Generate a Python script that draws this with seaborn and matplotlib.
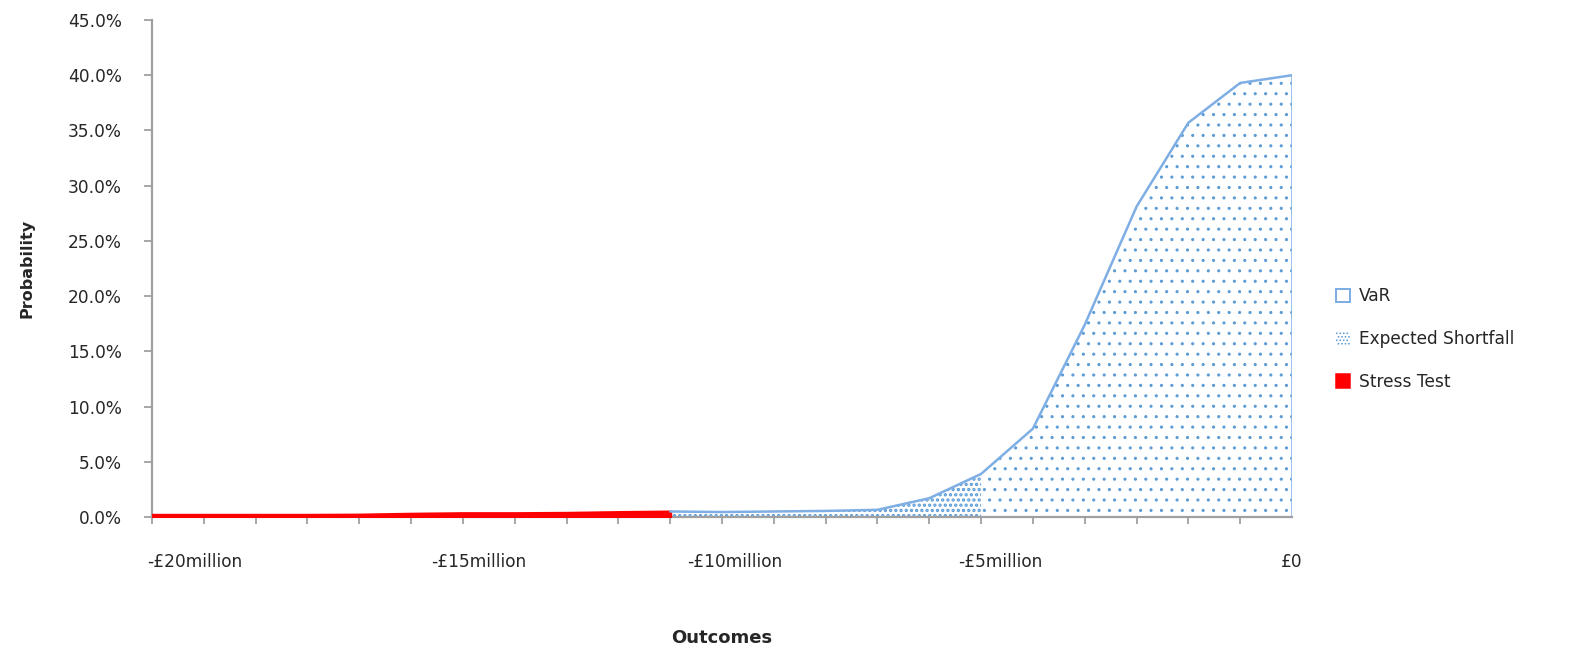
import numpy as np
import pandas as pd
import matplotlib
matplotlib.use("Agg")
import matplotlib.pyplot as plt
from matplotlib.patches import Patch
from matplotlib.ticker import PercentFormatter, FixedLocator
import seaborn as sns

# Outcome buckets (category positions along the axis) and probability (%)
steps = list(range(23))
probability = [0.20, 0.20, 0.20, 0.20, 0.22, 0.30, 0.35, 0.35, 0.38, 0.45, 0.50,
               0.45, 0.50, 0.55, 0.65, 1.7, 3.9, 8.0, 17.4, 28.1, 35.7, 39.3, 40.0]

# Series boundaries (bucket index)
stress_end = 10      # stress test region: buckets 0..10
es_end = 16          # expected shortfall region: buckets 10..16

# Axis labels
outcome_labels = ["-£20million", "-£15million", "-£10million", "-£5million", "£0"]
outcome_label_pos = [0.82, 6.30, 11.24, 16.38, 22.0]
y_ticks = [0, 5, 10, 15, 20, 25, 30, 35, 40, 45]

df = pd.DataFrame({"step": steps, "prob": probability})

DPI = 125
W, H = 1580, 649


def pt(px):
    """Convert a size in output pixels to points."""
    return px * 72.0 / DPI


def hatch_lw(artist, lw):
    """Set the hatch line width of one artist where supported."""
    if hasattr(artist, "set_hatch_linewidth"):
        artist.set_hatch_linewidth(lw)


sns.set_theme(style="white")
plt.rcParams["font.family"] = ["DejaVu Sans"]
plt.rcParams["hatch.color"] = "#5b9bd5"
plt.rcParams["hatch.linewidth"] = 0.6

BLUE_LINE = "#7eaee3"
BLUE_DOT = "#5b9bd5"
RED = "#ff0000"
GREY = "#a0a0a0"
TEXT = "#262626"
ES_HATCH_LW = 1.3

fig = plt.figure(figsize=(W / DPI, H / DPI), dpi=DPI)
ax = fig.add_axes([152 / W, (H - 517) / H, 1140 / W, 497 / H])

# Stress test: solid red area
st = df[df.step <= stress_end]
ax.fill_between(st.step, 0, st.prob, facecolor=RED, edgecolor=RED, lw=pt(3), zorder=3)

# Expected shortfall: dense dotted area
es = df[(df.step >= stress_end) & (df.step <= es_end)]
with plt.rc_context({"hatch.linewidth": ES_HATCH_LW}):
    es_fill = ax.fill_between(es.step, 0, es.prob, facecolor="none", edgecolor=BLUE_DOT,
                              hatch="....", lw=0, zorder=2)
hatch_lw(es_fill, ES_HATCH_LW)

# VaR: sparse dotted area with outline
var = df[df.step >= es_end]
var_fill = ax.fill_between(var.step, 0, var.prob, facecolor="none", edgecolor=BLUE_DOT,
                           hatch="..", lw=0, zorder=2)
hatch_lw(var_fill, 0.6)

outline = df[df.step >= stress_end]
sns.lineplot(data=outline, x="step", y="prob", ax=ax, color=BLUE_LINE, lw=pt(2.5),
             zorder=4, legend=False)
last = df.iloc[-1]
ax.plot([last.step, last.step], [0, last.prob], color=BLUE_LINE, lw=pt(2.5), zorder=4)

ax.set_xlim(0, 22)
ax.set_ylim(0, 45)

# Axes styling
for side in ["top", "right"]:
    ax.spines[side].set_visible(False)
for side in ["left", "bottom"]:
    ax.spines[side].set_color(GREY)
    ax.spines[side].set_linewidth(pt(2.2))

ax.yaxis.set_major_locator(FixedLocator(y_ticks))
ax.yaxis.set_major_formatter(PercentFormatter(xmax=100, decimals=1))
ax.tick_params(axis="y", which="major", direction="out", length=pt(8), width=pt(1.8),
               color=GREY, pad=pt(22), labelsize=pt(17), labelcolor=TEXT, left=True)

ax.set_xticks(outcome_label_pos)
ax.set_xticklabels(outcome_labels)
ax.set_xticks(steps, minor=True)
ax.tick_params(axis="x", which="major", length=0, pad=pt(36), labelsize=pt(17),
               labelcolor=TEXT, bottom=True)
ax.tick_params(axis="x", which="minor", direction="out", length=pt(7), width=pt(1.8),
               color=GREY, bottom=True)

ax.set_xlabel("Outcomes", fontsize=pt(18), fontweight="bold", color=TEXT, va="center")
ax.xaxis.set_label_coords(0.5, (517 - 638) / 497)
ax.set_ylabel("Probability", fontsize=pt(16), fontweight="bold", color=TEXT, va="center")
ax.yaxis.set_label_coords((27 - 152) / 1140, 0.5)

with plt.rc_context({"hatch.linewidth": ES_HATCH_LW}):
    es_handle = Patch(facecolor="white", edgecolor=BLUE_DOT, hatch="......", lw=0,
                      label="Expected Shortfall")
hatch_lw(es_handle, ES_HATCH_LW)
handles = [
    Patch(facecolor="white", edgecolor=BLUE_LINE, lw=pt(2), label="VaR"),
    es_handle,
    Patch(facecolor=RED, edgecolor=RED, lw=pt(1.5), label="Stress Test"),
]
fig.legend(handles=handles, loc="center left",
           bbox_to_anchor=(1336 / W, (H - 339) / H),
           frameon=False, fontsize=pt(17), labelcolor=TEXT, handlelength=0.85,
           handleheight=0.85, handletextpad=0.5, labelspacing=1.45, borderpad=0,
           borderaxespad=0)

fig.savefig("out.png", dpi=DPI)
